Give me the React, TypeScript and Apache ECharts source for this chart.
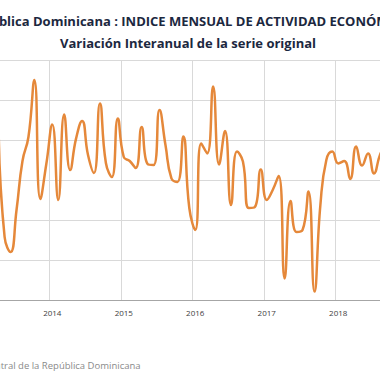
import React, { useEffect, useRef } from "react";
import * as echarts from "echarts";

// Monthly year-on-year variation (%) of the IMAE
const startYear = 2013;
const startMonth = 4; // April 2013
const values2013 = [8.4, 3.15, 2.4, 4.5, 6.95, 8.15, 11.0, 5.05, 6.8];
const values2014 = [8.78, 5.0, 9.28, 6.5, 8.08, 8.95, 7.25, 6.35, 9.83, 6.85, 6.15, 9.08];
const values2015 = [7.15, 6.95, 6.6, 8.65, 6.8, 6.75, 9.5, 7.75, 6.08, 5.9, 8.17, 4.6];
const values2016 = [3.5, 7.83, 7.33, 10.67, 6.78, 8.45, 4.75, 7.42, 6.92, 4.6, 4.65, 6.53];
const values2017 = [5.0, 5.5, 6.2, 1.08, 4.95, 3.4, 3.5, 5.42, 0.42, 4.75, 7.0, 7.42];
const values2018 = [6.83, 6.95, 6.05, 7.67, 6.72, 7.33, 6.33, 7.25, 7.8];

const titleText = "República Dominicana : INDICE MENSUAL DE ACTIVIDAD ECONÓMICA";
const subtitleText = "Variación Interanual de la serie original";
const sourceText = "Fuente: Banco Central de la República Dominicana";

const values = [
  ...values2013,
  ...values2014,
  ...values2015,
  ...values2016,
  ...values2017,
  ...values2018,
];

const categories: string[] = values.map((_, i) => {
  const m = startMonth - 1 + i;
  const y = startYear + Math.floor(m / 12);
  const mm = (m % 12) + 1;
  return `${y}-${mm < 10 ? "0" + mm : mm}`;
});

const isJanuary = (_idx: number, v: string) => v.endsWith("-01");

const SHIFT = 100;
const WIDTH = 576;

export default function App() {
  const ref = useRef<HTMLDivElement>(null);
  useEffect(() => {
    if (!ref.current) return;
    const chart = echarts.init(ref.current, null, { renderer: "svg" });
    chart.setOption({
      animation: false,
      backgroundColor: "#ffffff",
      title: [
        {
          text: titleText,
          left: "center",
          top: 9,
          textStyle: {
            fontFamily: "Open Sans",
            fontWeight: "bold",
            fontSize: 13,
            color: "#1c2840",
          },
        },
        {
          text: subtitleText,
          left: "center",
          top: 31,
          textStyle: {
            fontFamily: "Open Sans",
            fontWeight: "bold",
            fontSize: 13,
            color: "#1c2840",
          },
        },
      ],
      graphic: [
        {
          type: "text",
          left: SHIFT - 82,
          top: 360,
          style: {
            text: sourceText,
            fontFamily: "Open Sans",
            fontSize: 9.5,
            fill: "#8a8a8a",
          },
        },
      ],
      grid: { left: 95.67, right: 87.1, top: 60, bottom: 80, containLabel: false },
      xAxis: {
        type: "category",
        data: categories,
        boundaryGap: true,
        axisLine: { show: true, lineStyle: { color: "#a6a6a6", width: 1 } },
        axisTick: { show: false },
        axisLabel: {
          interval: isJanuary,
          formatter: (v: string) => v.slice(0, 4),
          color: "#404040",
          fontFamily: "Open Sans",
          fontSize: 8,
          margin: 8,
        },
        splitLine: {
          show: true,
          interval: isJanuary,
          lineStyle: { color: "#d9d9d9", width: 1 },
        },
      },
      yAxis: {
        type: "value",
        min: 0,
        max: 12,
        interval: 2,
        axisLine: { show: false },
        axisTick: { show: false },
        axisLabel: { show: false },
        splitLine: { show: true, lineStyle: { color: "#d9d9d9", width: 1 } },
      },
      series: [
        {
          type: "line",
          data: values,
          smooth: true,
          showSymbol: false,
          lineStyle: { color: "#e5883a", width: 2.5 },
          itemStyle: { color: "#e5883a" },
        },
      ],
    });
    return () => chart.dispose();
  }, []);
  return (
    <div
      style={{
        position: "fixed",
        left: 0,
        top: 0,
        width: 380,
        height: 380,
        overflow: "hidden",
        background: "#ffffff",
      }}
    >
      <div
        ref={ref}
        style={{ position: "absolute", left: -SHIFT, top: 0, width: WIDTH, height: 380 }}
      />
    </div>
  );
}
